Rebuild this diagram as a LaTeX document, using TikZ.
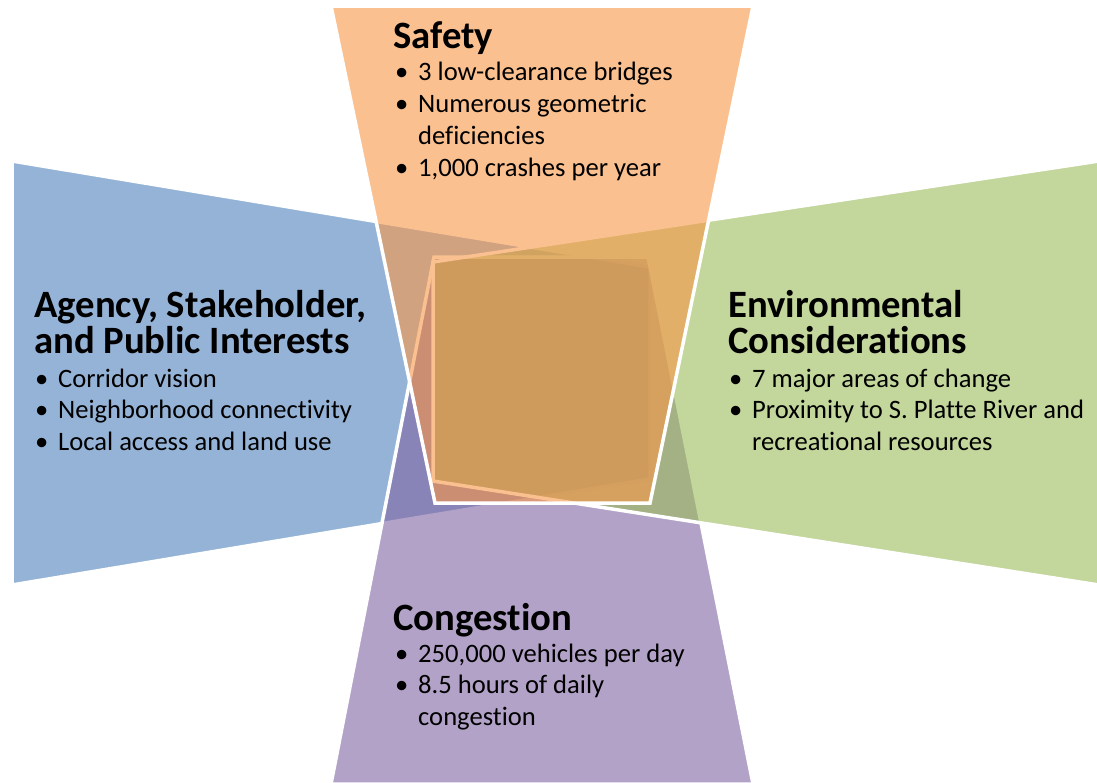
\documentclass[tikz,border=0pt]{standalone}
\usepackage{fontspec}
\setmainfont{Carlito}[Ligatures=NoCommon]
\usepackage{tikz}

\definecolor{agencyblue}{HTML}{4F81BD}
\definecolor{safetyorange}{HTML}{F79646}
\definecolor{envgreen}{HTML}{9BBB59}
\definecolor{congpurple}{HTML}{8064A2}

\begin{document}
\begin{tikzpicture}[x=1pt, y=-1pt]
		\tikzset{panel/.style={draw = white, line width = 3.5pt, line join = miter, fill opacity = 0.6}}
		\tikzset{heading/.style={anchor = base west, inner sep = 0pt, align = left,
				font = \bfseries\fontsize{38.7}{36}\selectfont}}
		\tikzset{point/.style={anchor = base west, inner sep = 0pt, align = left,
				font = \fontsize{26.6}{31.7}\selectfont}}
		\useasboundingbox (0, 0) rectangle (1097, 782);
		%panels
		\filldraw[panel, fill = agencyblue] (12, 161) -- (650, 267) -- (650, 479) -- (12, 585) -- cycle;
		\filldraw[panel, fill = congpurple] (434, 257) -- (648, 257) -- (753, 784) -- (331, 784) -- cycle;
		\filldraw[panel, fill = envgreen] (1099, 161) -- (433, 262) -- (433, 481) -- (1099, 585) -- cycle;
		\filldraw[panel, fill = safetyorange] (331, 6) -- (753, 6) -- (650, 503) -- (435, 503) -- cycle;
		%labels (base of a two-line node is its last line)
		\node[heading] (safety) at (393, 48) {Safety};
		\node[point] (safety1) at (395, 80) {\makebox[23pt][l]{\textbullet}3 low-clearance bridges};
		\node[point] (safety2) at (395, 144) {\makebox[23pt][l]{\textbullet}Numerous geometric\\\hspace*{23pt}deficiencies};
		\node[point] (safety3) at (395, 176) {\makebox[23pt][l]{\textbullet}1,000 crashes per year};
		\node[heading] (agency) at (34, 353) {Agency, Stakeholder,\\and Public Interests};
		\node[point] (agency1) at (35, 387) {\makebox[23pt][l]{\textbullet}Corridor vision};
		\node[point] (agency2) at (35, 418) {\makebox[23pt][l]{\textbullet}Neighborhood connectivity};
		\node[point] (agency3) at (35, 450) {\makebox[23pt][l]{\textbullet}Local access and land use};
		\node[heading] (env) at (728, 353) {Environmental\\Considerations};
		\node[point] (env1) at (729, 387) {\makebox[23pt][l]{\textbullet}7 major areas of change};
		\node[point] (env2) at (729, 450) {\makebox[23pt][l]{\textbullet}Proximity to S. Platte River and\\\hspace*{23pt}recreational resources};
		\node[heading] (cong) at (393, 630) {Congestion};
		\node[point] (cong1) at (395, 662) {\makebox[23pt][l]{\textbullet}250,000 vehicles per day};
		\node[point] (cong2) at (395, 725) {\makebox[23pt][l]{\textbullet}8.5 hours of daily\\\hspace*{23pt}congestion};
\end{tikzpicture}
\end{document}
